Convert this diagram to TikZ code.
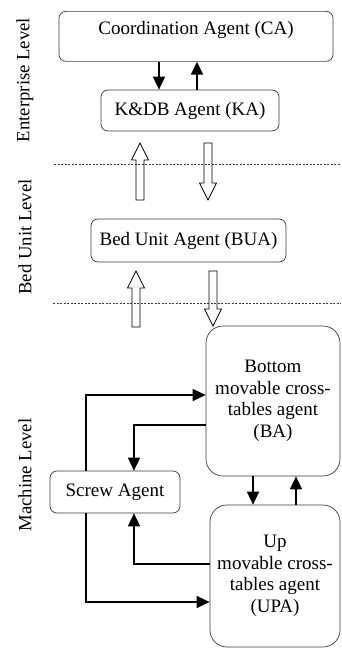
\documentclass[tikz,border=0pt]{standalone}
\usepackage{fontspec}
\setmainfont{Liberation Serif}
\usepackage{tikz}
\usetikzlibrary{positioning, calc, arrows.meta}
\definecolor{Frame}{HTML}{3A3A3A}

\tikzset{
  agent/.style={rectangle, draw=Frame, line width=0.7pt, rounded corners=7pt,
    inner sep=3pt, font=\fontsize{19}{21.5}\selectfont},
  bigagent/.style={agent, rounded corners=17pt, align=center},
  flow/.style={line width=1.6pt, -{Triangle[length=13pt, width=12pt]}},
  fat/.style={line width=0.8pt, draw=black},
  level/.style={rotate=90, font=\fontsize{18.7}{22}\selectfont},
  split/.style={draw=Frame, line width=0.6pt, dash pattern=on 2pt off 1.5pt},
}
\newcommand{\fatarrow}[2]{%
  \coordinate (fab) at ($(#2)!17pt!(#1)$);
  \draw[fat] ($(#1)!4pt!90:(#2)$) -- ($(fab)!4pt!-90:(#1)$) -- ($(fab)!8.5pt!-90:(#1)$)
    -- (#2) -- ($(fab)!8.5pt!90:(#1)$) -- ($(fab)!4pt!90:(#1)$)
    -- ($(#1)!4pt!-90:(#2)$) -- cycle;}

\begin{document}
\begin{tikzpicture}[x=1pt, y=-1pt]
\useasboundingbox (0,0) rectangle (341,648);

\node[level] (EL) at (25,80) {Enterprise Level};
\node[level] (BL) at (25,237) {Bed Unit Level};
\node[level] (ML) at (25,475) {Machine Level};

\node[agent, anchor=north, minimum width=274pt, inner ysep=4pt,
      text height=19.5pt, text depth=22.5pt] (CA) at (196,11) {Coordination Agent (CA)};
\node[agent, minimum width=178pt, minimum height=41pt] (KA) at (190,110.5) {K\&DB Agent (KA)};
\node[agent, minimum width=195pt, minimum height=43pt] (BUA) at (188.5,240.5) {Bed Unit Agent (BUA)};
\node[bigagent, minimum width=134pt, minimum height=150pt] (BA) at (273,401)
  {Bottom\\movable cross-\\tables agent\\(BA)};
\node[agent, minimum width=130pt, minimum height=42pt] (SA) at (115,492) {Screw Agent};
\node[bigagent, minimum width=130pt, minimum height=142pt] (UPA) at (275,576)
  {Up\\movable cross-\\tables agent\\(UPA)};

\draw[split] (54,164) -- (341,164);
\draw[split] (53,303) -- (341,303);

\draw[flow] ([xshift=-37pt]CA.south) -- ([xshift=-31pt]KA.north);
\draw[flow] ([xshift=7pt]KA.north) -- ([xshift=1pt]CA.south);

\fatarrow{140,200}{140,143}
\fatarrow{208,143}{208,200}
\fatarrow{136,327}{136,271}
\fatarrow{213,271}{213,326}

\draw[flow] ([xshift=-20pt]BA.south) -- ([xshift=-22pt]UPA.north);
\draw[flow] ([xshift=21pt]UPA.north) -- ([xshift=23pt]BA.south);

\draw[flow] ([xshift=-29pt]SA.north) |- ([yshift=6pt]BA.west);
\draw[flow] ([yshift=-24pt]BA.west) -| ([xshift=19pt]SA.north);
\draw[flow] ([yshift=12pt]UPA.west) -| ([xshift=19pt]SA.south);
\draw[flow] ([xshift=-29pt]SA.south) |- ([yshift=-26pt]UPA.west);
\end{tikzpicture}
\end{document}
